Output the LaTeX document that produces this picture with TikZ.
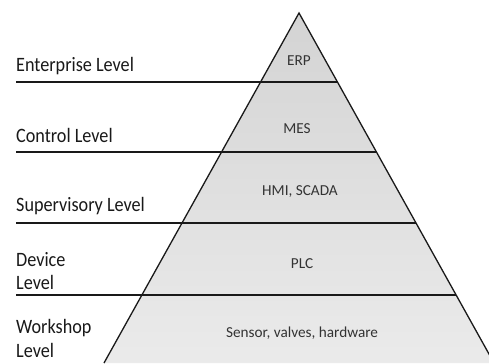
\documentclass[tikz,border=0pt]{standalone}
\usepackage{fontspec}
\setmainfont{Carlito}
\newfontfamily\levelfont[FakeStretch=0.89]{Carlito}
\usetikzlibrary{calc}

\begin{document}
\begin{tikzpicture}[x=1bp,y=1bp,
  level/.style={anchor=west,align=left,inner sep=0pt,text=black!90,
    font=\levelfont\fontsize{20.5}{24}\selectfont},
  layer/.style={inner sep=0pt,text=black!80,font=\fontsize{15.3}{18}\selectfont},
  border/.style={line width=1.3bp,black!90}]
\useasboundingbox (0,0) rectangle (489,363);
% pyramid
\coordinate (top) at (299,350);
\coordinate (bl) at (104,0);
\coordinate (br) at (494,0);
\begin{scope}
\clip (0,0) rectangle (489,363);
\shade[top color=gray!34,bottom color=gray!16] (top) -- (bl) -- (br) -- cycle;
\draw[border] (bl) -- (top) -- (br);
\end{scope}
% level dividers
\coordinate (l1) at (16,281);
\coordinate (l2) at (16,211);
\coordinate (l3) at (16,140);
\coordinate (l4) at (16,68);
\coordinate (r1) at ($(top)!0.197!(br)$);
\coordinate (r2) at ($(top)!0.397!(br)$);
\coordinate (r3) at ($(top)!0.600!(br)$);
\coordinate (r4) at ($(top)!0.806!(br)$);
\draw[border] (l1) -- (l1 -| r1);
\draw[border] (l2) -- (l2 -| r2);
\draw[border] (l3) -- (l3 -| r3);
\draw[border] (l4) -- (l4 -| r4);
% level names
\node[level] (enterprise) at (16,297) {Enterprise Level};
\node[level] (control) at (16,228) {Control Level};
\node[level] (supervisory) at (16,157) {Supervisory Level};
\node[level] (device) at (16,92) {Device\\Level};
\node[level] (workshop) at (16,24.5) {Workshop\\Level};
% systems
\node[layer] (erp) at (299,302) {ERP};
\node[layer] (mes) at (297,234) {MES};
\node[layer] (scada) at (300,171) {HMI, SCADA};
\node[layer] (plc) at (302,99) {PLC};
\node[layer] (sensor) at (302,30) {Sensor, valves, hardware};
\end{tikzpicture}
\end{document}
